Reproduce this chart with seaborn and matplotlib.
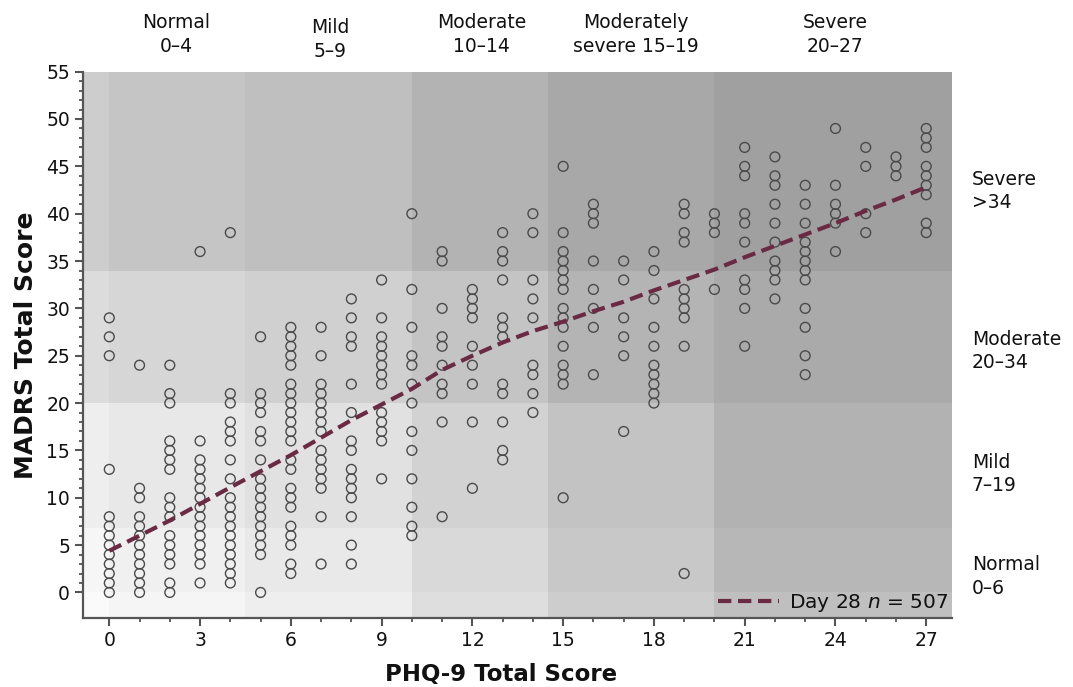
import matplotlib.pyplot as plt
import numpy as np
import pandas as pd
import seaborn as sns
from matplotlib.ticker import FixedLocator, MultipleLocator

# MADRS scores, one list per PHQ-9 score (0..27)
madrs_00 = [29, 27, 25, 13, 8, 7, 6, 5, 4, 3, 2, 1, 0]
madrs_01 = [24, 11, 10, 8, 7, 6, 5, 4, 3, 2, 1, 0]
madrs_02 = [24, 21, 20, 16, 15, 14, 13, 10, 9, 8, 6, 5, 4, 3, 1, 0]
madrs_03 = [36, 16, 14, 13, 12, 11, 10, 9, 8, 7, 6, 5, 4, 3, 1]
madrs_04 = [38, 21, 20, 18, 17, 16, 14, 12, 10, 9, 8, 7, 6, 5, 4, 3, 2, 1]
madrs_05 = [27, 21, 20, 19, 17, 16, 14, 12, 11, 10, 9, 8, 7, 6, 5, 4, 0]
madrs_06 = [28, 27, 26, 25, 24, 22, 21, 20, 19, 18, 17, 16, 14, 13, 11, 10, 9, 7, 6, 5, 3, 2]
madrs_07 = [28, 25, 22, 21, 20, 19, 18, 17, 15, 14, 13, 12, 11, 8, 3]
madrs_08 = [31, 29, 27, 26, 22, 19, 16, 15, 13, 12, 11, 10, 8, 5, 3]
madrs_09 = [33, 29, 27, 26, 25, 24, 23, 22, 19, 18, 17, 16, 12]
madrs_10 = [40, 32, 28, 25, 24, 22, 20, 17, 15, 12, 9, 7, 6]
madrs_11 = [36, 35, 30, 27, 26, 24, 22, 21, 18, 8]
madrs_12 = [32, 31, 30, 29, 26, 24, 22, 18, 11]
madrs_13 = [38, 36, 35, 33, 29, 28, 27, 22, 21, 18, 15, 14]
madrs_14 = [40, 38, 33, 31, 29, 24, 23, 21, 19]
madrs_15 = [45, 38, 36, 35, 34, 33, 32, 30, 29, 28, 26, 24, 23, 22, 10]
madrs_16 = [41, 40, 39, 35, 32, 30, 28, 23]
madrs_17 = [35, 33, 29, 27, 25, 17]
madrs_18 = [36, 34, 31, 28, 26, 24, 23, 22, 21, 20]
madrs_19 = [41, 40, 38, 37, 32, 31, 30, 29, 26, 2]
madrs_20 = [40, 39, 38, 32]
madrs_21 = [47, 45, 44, 40, 39, 37, 33, 32, 30, 26]
madrs_22 = [46, 44, 43, 41, 39, 37, 35, 34, 33, 31]
madrs_23 = [43, 41, 39, 37, 36, 35, 34, 33, 30, 28, 25, 23]
madrs_24 = [49, 43, 41, 40, 39, 36]
madrs_25 = [47, 45, 40, 38]
madrs_26 = [46, 45, 44]
madrs_27 = [49, 48, 47, 45, 44, 43, 42, 39, 38]

madrs_columns = [
    madrs_00, madrs_01, madrs_02, madrs_03, madrs_04, madrs_05, madrs_06,
    madrs_07, madrs_08, madrs_09, madrs_10, madrs_11, madrs_12, madrs_13,
    madrs_14, madrs_15, madrs_16, madrs_17, madrs_18, madrs_19, madrs_20,
    madrs_21, madrs_22, madrs_23, madrs_24, madrs_25, madrs_26, madrs_27,
]

# smoothed trend (dashed line)
trend_phq = [0, 2, 4, 6, 8, 10, 11, 12, 13, 14, 15, 16, 17, 18, 19, 20, 21, 22, 23, 24, 25, 26, 27]
trend_madrs = [4.4, 7.6, 11.1, 14.5, 18.2, 21.5, 23.5, 25.0, 26.4, 27.6, 28.6, 29.7, 30.7,
               31.9, 33.0, 34.1, 35.4, 36.6, 37.8, 39.0, 40.3, 41.5, 42.8]

# severity band labels
phq_band_labels = ["Normal\n0\u20134", "Mild\n5\u20139", "Moderate\n10\u201314",
                   "Moderately\nsevere 15\u201319", "Severe\n20\u201327"]
madrs_band_labels = ["Normal\n0\u20136", "Mild\n7\u201319", "Moderate\n20\u201334", "Severe\n>34"]

rows = [(phq, m) for phq, col in enumerate(madrs_columns) for m in col]
df = pd.DataFrame(rows, columns=["phq", "madrs"])
df_trend = pd.DataFrame({"phq": trend_phq, "madrs": trend_madrs})

sns.set_style("ticks")
plt.rcParams["font.family"] = ["DejaVu Sans"]
plt.rcParams["text.color"] = "#111111"
plt.rcParams["axes.labelcolor"] = "#111111"

fig, ax = plt.subplots(figsize=(10.73, 6.87), dpi=100)
fig.subplots_adjust(left=0.0776, right=0.8872, bottom=0.1004, top=0.8957)

xlim = (-0.86, 27.85)
ylim = (-2.7, 55)

# shaded severity grid
x_edges = [xlim[0], 0, 4.5, 10, 14.5, 20, xlim[1]]
y_edges = [ylim[0], 0, 6.8, 20, 34, ylim[1]]
greys = np.array([
    [250, 245, 238, 222, 205, 191],
    [246, 240, 233, 217, 200, 183],
    [238, 232, 225, 210, 195, 178],
    [220, 214, 208, 196, 180, 170],
    [205, 197, 191, 179, 168, 160],
]) / 255
ax.pcolormesh(x_edges, y_edges, greys, cmap="gray", vmin=0, vmax=1,
              shading="flat", zorder=0)

sns.scatterplot(data=df, x="phq", y="madrs", marker="o", s=50,
                facecolors="none", edgecolor="#4a4a4a", linewidth=1.0,
                ax=ax, zorder=3, legend=False)

sns.lineplot(data=df_trend, x="phq", y="madrs", color="#6b2a43", linewidth=3.0,
             linestyle=(0, (3.2, 1.6)), ax=ax, zorder=4,
             label="Day 28 $n$ = 507")

ax.set_xlim(*xlim)
ax.set_ylim(*ylim)
ax.xaxis.set_major_locator(FixedLocator(range(0, 28, 3)))
ax.xaxis.set_minor_locator(FixedLocator(range(0, 28)))
ax.yaxis.set_major_locator(MultipleLocator(5))
ax.yaxis.set_minor_locator(FixedLocator(range(0, 56)))
ax.tick_params(which="major", length=6, width=1.5, color="#555555",
               labelsize=13.5, labelcolor="#111111")
ax.tick_params(which="minor", length=3, width=1.3, color="#555555")

sns.despine(ax=ax)
for side in ["left", "bottom"]:
    ax.spines[side].set_color("#555555")
    ax.spines[side].set_linewidth(1.6)

ax.set_xlabel("PHQ-9 Total Score", fontsize=16.5, fontweight="bold")
ax.xaxis.set_label_coords(0.481, -0.083)
ax.set_ylabel("MADRS Total Score", fontsize=18, fontweight="bold", labelpad=6)

# band labels above the plot
top_x = [2.2, 7.3, 12.3, 17.4, 24.0]
top_y = [1.068, 1.059, 1.068, 1.068, 1.068]
for label, x, y in zip(phq_band_labels, top_x, top_y):
    ax.text(x, y, label, transform=ax.get_xaxis_transform(), ha="center",
            va="center", fontsize=13.5, linespacing=1.3)

# band labels on the right
right_y = [1.7, 12.5, 25.5, 42.4]
for label, y in zip(madrs_band_labels, right_y):
    ax.text(1.0227, y, label, transform=ax.get_yaxis_transform(), ha="left",
            va="center", fontsize=13.5, linespacing=1.3)

ax.legend(loc="lower right", frameon=False, fontsize=14.5, handlelength=3.0,
          handletextpad=0.5, borderaxespad=0.05, borderpad=0.15)

fig.savefig("out.png", dpi=100)
